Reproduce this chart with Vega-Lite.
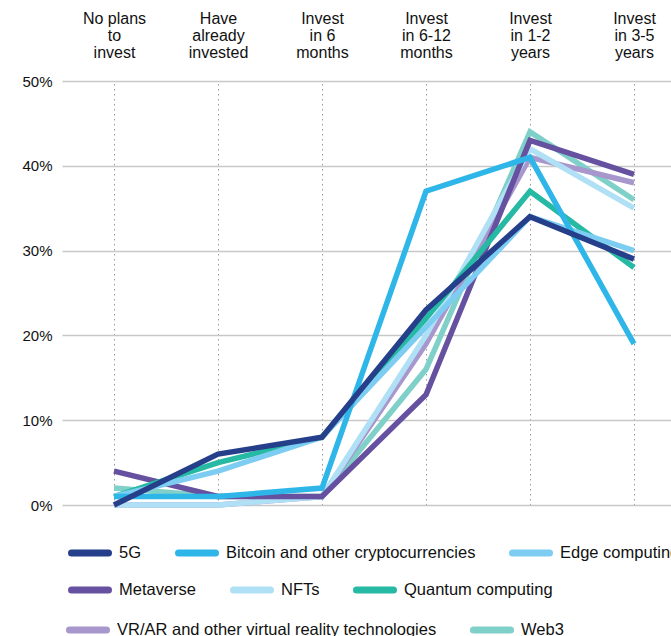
{
  "$schema": "https://vega.github.io/schema/vega-lite/v6.json",
  "width": 624,
  "height": 424,
  "autosize": {"type": "none"},
  "padding": {"left": 62, "top": 81, "right": 0, "bottom": 131},
  "config": {
    "font": "Liberation Sans",
    "view": {"stroke": null},
    "axis": {"labelColor": "#111111", "labelFontSize": 15, "domain": false, "ticks": false, "title": null},
    "legend": {
      "orient": "none",
      "direction": "horizontal",
      "title": null,
      "columnPadding": 22,
      "symbolType": "stroke",
      "symbolSize": 1369,
      "symbolStrokeWidth": 7,
      "labelFontSize": 16.5,
      "labelColor": "#111111",
      "labelOffset": 7,
      "labelLimit": 400
    }
  },
  "data": {
    "values": [
      {"cat": "No plans|to|invest", "series": "Web3", "value": 2},
      {"cat": "Have|already|invested", "series": "Web3", "value": 1},
      {"cat": "Invest|in 6|months", "series": "Web3", "value": 1},
      {"cat": "Invest|in 6-12|months", "series": "Web3", "value": 16},
      {"cat": "Invest|in 1-2|years", "series": "Web3", "value": 44},
      {"cat": "Invest|in 3-5|years", "series": "Web3", "value": 36},
      {"cat": "No plans|to|invest", "series": "VR/AR and other virtual reality technologies", "value": 0},
      {"cat": "Have|already|invested", "series": "VR/AR and other virtual reality technologies", "value": 0},
      {"cat": "Invest|in 6|months", "series": "VR/AR and other virtual reality technologies", "value": 1},
      {"cat": "Invest|in 6-12|months", "series": "VR/AR and other virtual reality technologies", "value": 19},
      {"cat": "Invest|in 1-2|years", "series": "VR/AR and other virtual reality technologies", "value": 41},
      {"cat": "Invest|in 3-5|years", "series": "VR/AR and other virtual reality technologies", "value": 38},
      {"cat": "No plans|to|invest", "series": "NFTs", "value": 0},
      {"cat": "Have|already|invested", "series": "NFTs", "value": 0},
      {"cat": "Invest|in 6|months", "series": "NFTs", "value": 1},
      {"cat": "Invest|in 6-12|months", "series": "NFTs", "value": 20},
      {"cat": "Invest|in 1-2|years", "series": "NFTs", "value": 42},
      {"cat": "Invest|in 3-5|years", "series": "NFTs", "value": 35},
      {"cat": "No plans|to|invest", "series": "Metaverse", "value": 4},
      {"cat": "Have|already|invested", "series": "Metaverse", "value": 1},
      {"cat": "Invest|in 6|months", "series": "Metaverse", "value": 1},
      {"cat": "Invest|in 6-12|months", "series": "Metaverse", "value": 13},
      {"cat": "Invest|in 1-2|years", "series": "Metaverse", "value": 43},
      {"cat": "Invest|in 3-5|years", "series": "Metaverse", "value": 39},
      {"cat": "No plans|to|invest", "series": "Quantum computing", "value": 1},
      {"cat": "Have|already|invested", "series": "Quantum computing", "value": 5},
      {"cat": "Invest|in 6|months", "series": "Quantum computing", "value": 8},
      {"cat": "Invest|in 6-12|months", "series": "Quantum computing", "value": 22},
      {"cat": "Invest|in 1-2|years", "series": "Quantum computing", "value": 37},
      {"cat": "Invest|in 3-5|years", "series": "Quantum computing", "value": 28},
      {"cat": "No plans|to|invest", "series": "Edge computing", "value": 1},
      {"cat": "Have|already|invested", "series": "Edge computing", "value": 4},
      {"cat": "Invest|in 6|months", "series": "Edge computing", "value": 8},
      {"cat": "Invest|in 6-12|months", "series": "Edge computing", "value": 21},
      {"cat": "Invest|in 1-2|years", "series": "Edge computing", "value": 34},
      {"cat": "Invest|in 3-5|years", "series": "Edge computing", "value": 30},
      {"cat": "No plans|to|invest", "series": "Bitcoin and other cryptocurrencies", "value": 1},
      {"cat": "Have|already|invested", "series": "Bitcoin and other cryptocurrencies", "value": 1},
      {"cat": "Invest|in 6|months", "series": "Bitcoin and other cryptocurrencies", "value": 2},
      {"cat": "Invest|in 6-12|months", "series": "Bitcoin and other cryptocurrencies", "value": 37},
      {"cat": "Invest|in 1-2|years", "series": "Bitcoin and other cryptocurrencies", "value": 41},
      {"cat": "Invest|in 3-5|years", "series": "Bitcoin and other cryptocurrencies", "value": 19},
      {"cat": "No plans|to|invest", "series": "5G", "value": 0},
      {"cat": "Have|already|invested", "series": "5G", "value": 6},
      {"cat": "Invest|in 6|months", "series": "5G", "value": 8},
      {"cat": "Invest|in 6-12|months", "series": "5G", "value": 23},
      {"cat": "Invest|in 1-2|years", "series": "5G", "value": 34},
      {"cat": "Invest|in 3-5|years", "series": "5G", "value": 29}
    ]
  },
  "encoding": {
    "x": {
      "field": "cat",
      "type": "ordinal",
      "sort": null,
      "scale": {"type": "point", "padding": 0.5},
      "axis": {
        "orient": "top",
        "labelAngle": 0,
        "labelFontSize": 16,
        "labelExpr": "split(datum.label, '|')",
        "labelLineHeight": 17,
        "labelPadding": 55,
        "labelBaseline": "bottom",
        "grid": true,
        "gridDash": [1.5, 3.5],
        "gridColor": "#9a9a9a",
        "gridWidth": 1
      }
    },
    "y": {
      "field": "value",
      "type": "quantitative",
      "scale": {"domain": [0, 50]},
      "axis": {
        "values": [0, 10, 20, 30, 40, 50],
        "labelExpr": "datum.value + '%'",
        "labelPadding": 10,
        "grid": true,
        "gridColor": "#c8c8c8",
        "gridWidth": 1.5
      }
    }
  },
  "layer": [
    {
      "transform": [{"filter": {"field": "series", "oneOf": ["VR/AR and other virtual reality technologies", "Web3"]}}],
      "mark": {"type": "line", "strokeWidth": 5.5},
      "encoding": {
        "color": {
          "field": "series",
          "type": "nominal",
          "scale": {"domain": ["VR/AR and other virtual reality technologies", "Web3"], "range": ["#a797cc", "#7fd0c8"]},
          "legend": {"legendX": 4, "legendY": 527, "encode": {"symbols": {"update": {"strokeCap": {"value": "round"}}}}}
        }
      }
    },
    {
      "transform": [{"filter": {"field": "series", "oneOf": ["Metaverse", "NFTs", "Quantum computing"]}}],
      "mark": {"type": "line", "strokeWidth": 5.5},
      "encoding": {
        "color": {
          "field": "series",
          "type": "nominal",
          "scale": {"domain": ["Metaverse", "NFTs", "Quantum computing"], "range": ["#6650a0", "#b0e0f6", "#26b9a3"]},
          "legend": {"legendX": 6, "legendY": 487, "encode": {"symbols": {"update": {"strokeCap": {"value": "round"}}}}}
        }
      }
    },
    {
      "transform": [{"filter": {"field": "series", "oneOf": ["5G", "Bitcoin and other cryptocurrencies", "Edge computing"]}}],
      "mark": {"type": "line", "strokeWidth": 5.5},
      "encoding": {
        "color": {
          "field": "series",
          "type": "nominal",
          "scale": {"domain": ["5G", "Bitcoin and other cryptocurrencies", "Edge computing"], "range": ["#253f8a", "#2fb6e8", "#7dcdf3"]},
          "legend": {"legendX": 6, "legendY": 450, "encode": {"symbols": {"update": {"strokeCap": {"value": "round"}}}}}
        }
      }
    }
  ],
  "resolve": {"scale": {"color": "independent"}, "legend": {"color": "independent"}}
}
